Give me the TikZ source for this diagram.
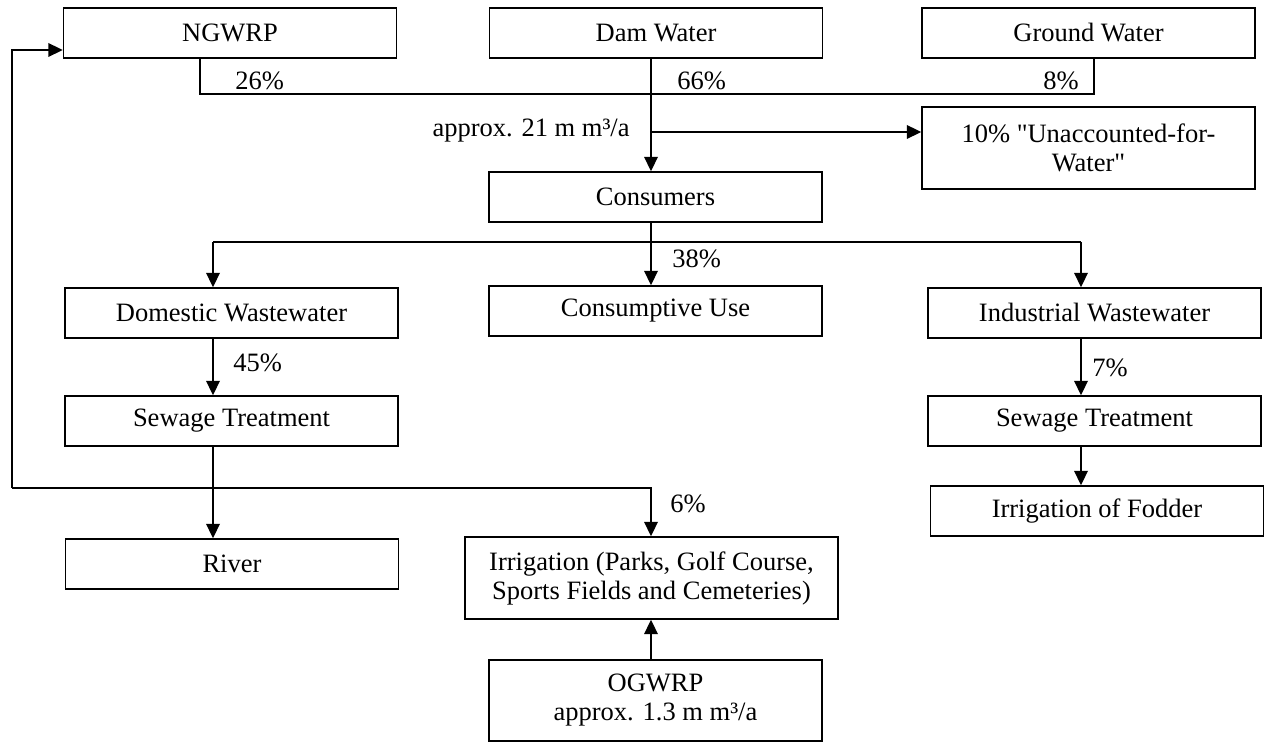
\documentclass[tikz,border=0pt]{standalone}
\usepackage{fontspec}
\setmainfont{Liberation Serif}[Ligatures=TeXOff]
\usetikzlibrary{arrows.meta}
\begin{document}
\begin{tikzpicture}[x=0.5pt,y=-0.5pt,
  every node/.style={font=\fontsize{13.25}{14.5}\selectfont, inner sep=0pt},
  box/.style={draw, line width=0.75pt, align=center, minimum height=25pt, minimum width=166.5pt},
  tall/.style={minimum height=41pt},
  conn/.style={line width=0.75pt},
  arr/.style={conn, -{Triangle[length=7.2pt,width=6.8pt]}},
  lbl/.style={anchor=base west}]
\useasboundingbox (0,0) rectangle (1264,742);
% boxes
\node[box] (ngwrp) at (230,33) {NGWRP};
\node[box] (dam) at (656,33) {Dam Water};
\node[box] (ground) at (1088.5,33) {Ground Water};
\node[box,tall] (unacc) at (1088.5,148) {10\% "Unaccounted-for-\\Water"};
\node[box] (consumers) at (655.5,197) {Consumers};
\node[box] (consumptive) at (655.5,311) {Consumptive Use};
\node[box] (domestic) at (231.5,313) {Domestic Wastewater};
\node[box] (industrial) at (1094.5,313) {Industrial Wastewater};
\node[box] (sewL) at (231.5,421) {Sewage Treatment};
\node[box] (sewR) at (1094.5,421) {Sewage Treatment};
\node[box] (fodder) at (1097,511) {Irrigation of Fodder};
\node[box] (river) at (232,564) {River};
\node[box,tall,minimum width=186.5pt] (irrig) at (651.5,578) {Irrigation (Parks, Golf Course,\\Sports Fields and Cemeteries)};
\node[box,tall,minimum height=40.5pt] (ogwrp) at (655.5,700.5) {OGWRP\\approx. 1.3 m m³/a};
% helper coordinates
\coordinate (nx) at (200,0);
\coordinate (gx) at (1094,0);
\coordinate (mx) at (651,0);
\coordinate (lx) at (213,0);
\coordinate (rx) at (1081,0);
\coordinate (fx) at (12,0);
\coordinate (sy) at (0,94);
\coordinate (by) at (0,132);
\coordinate (hy) at (0,242);
\coordinate (ry) at (0,488);
\coordinate (ny) at (0,50);
% connectors
\draw[conn] (ngwrp.south -| nx) -- (sy -| nx) -- (sy -| gx) -- (ground.south -| gx);
\draw[arr] (dam.south -| mx) -- (consumers.north -| mx);
\draw[arr] (by -| mx) -- (by -| unacc.west);
\draw[arr] (consumers.south -| mx) -- (consumptive.north -| mx);
\draw[conn] (hy -| lx) -- (hy -| rx);
\draw[arr] (hy -| lx) -- (domestic.north -| lx);
\draw[arr] (hy -| rx) -- (industrial.north -| rx);
\draw[arr] (domestic.south -| lx) -- (sewL.north -| lx);
\draw[arr] (industrial.south -| rx) -- (sewR.north -| rx);
\draw[arr] (sewR.south -| rx) -- (fodder.north -| rx);
\draw[arr] (sewL.south -| lx) -- (river.north -| lx);
\draw[arr] (ry -| fx) -- (ry -| mx) -- (irrig.north -| mx);
\draw[arr] (ry -| fx) -- (ny -| fx) -- (ny -| ngwrp.west);
\draw[arr] (ogwrp.north -| mx) -- (irrig.south -| mx);
% labels
\node[lbl] (l26) at (235,90) {26\%};
\node[lbl] (l66) at (677,90) {66\%};
\node[lbl] (l8) at (1043,90) {8\%};
\node[anchor=base east] (l21) at (630,137) {approx. 21 m m³/a};
\node[lbl] (l38) at (672,268) {38\%};
\node[lbl] (l45) at (233,372) {45\%};
\node[lbl] (l7) at (1092,377) {7\%};
\node[lbl] (l6) at (670,513) {6\%};
\end{tikzpicture}
\end{document}
